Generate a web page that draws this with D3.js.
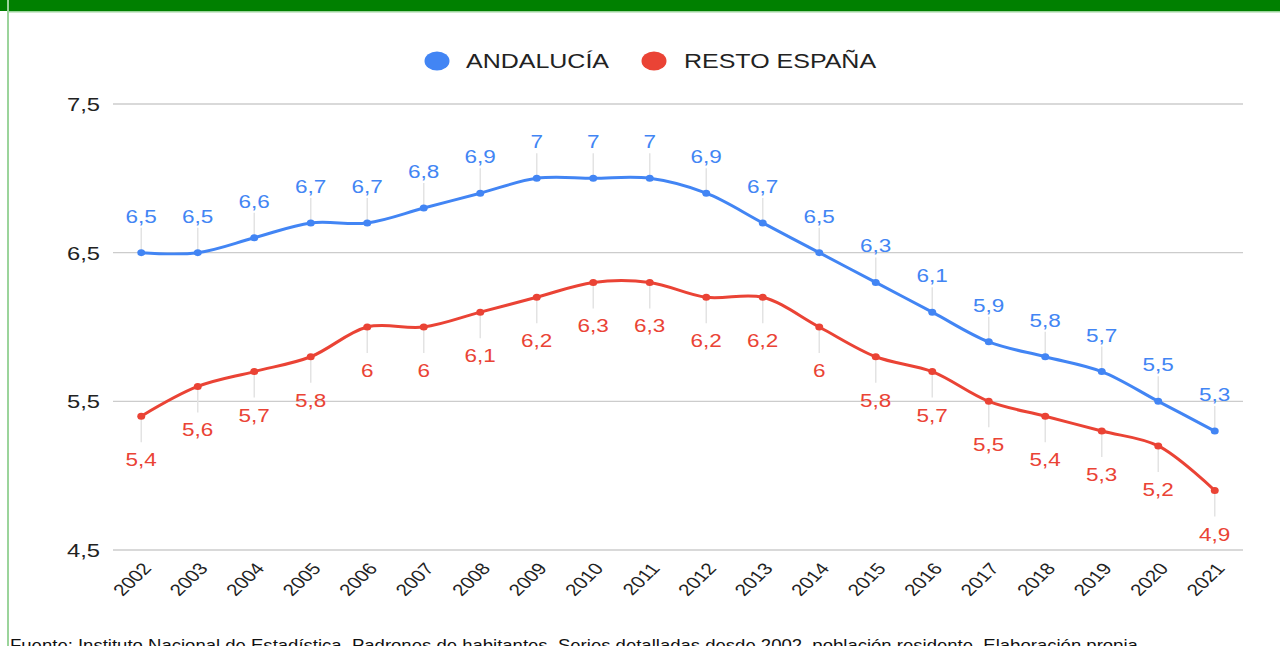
<!DOCTYPE html>
<html><head><meta charset="utf-8">
<script src="https://cdn.jsdelivr.net/npm/d3@7"></script>
<style>html,body{margin:0;padding:0;background:#fff;overflow:hidden}svg{display:block}text{font-family:"Liberation Sans",Arial,sans-serif}</style>
</head><body>
<svg id="c" width="1280" height="646"></svg>
<script>
const years = ["2002","2003","2004","2005","2006","2007","2008","2009","2010","2011","2012","2013","2014","2015","2016","2017","2018","2019","2020","2021"];
const andalucia = [6.5,6.5,6.6,6.7,6.7,6.8,6.9,7,7,7,6.9,6.7,6.5,6.3,6.1,5.9,5.8,5.7,5.5,5.3];
const restoEspana = [5.4,5.6,5.7,5.8,6,6,6.1,6.2,6.3,6.3,6.2,6.2,6,5.8,5.7,5.5,5.4,5.3,5.2,4.9];
const yTicks = [4.5,5.5,6.5,7.5];
const seriesNames = ["ANDALUCÍA","RESTO ESPAÑA"];
const footer = "Fuente: Instituto Nacional de Estadística. Padrones de habitantes. Series detalladas desde 2002, población residente. Elaboración propia.";

const BLUE = "#4285f4", RED = "#ea4335";
const SX = 1.25; // horizontal stretch of the reference
const svg = d3.select("#c");
const fmt = v => String(v).replace(".", ",");

// frame
svg.append("rect").attr("x",0).attr("y",0).attr("width",1280).attr("height",11).attr("fill","#008000");
svg.append("rect").attr("x",7).attr("y",11).attr("width",1273).attr("height",1.5).attr("fill","#9bd49b");
svg.append("rect").attr("x",7).attr("y",0).attr("width",2).attr("height",646).attr("fill","#9bd49b");

const x = d3.scaleBand().domain(years).range([113,1243]);
const y = d3.scaleLinear().domain([4.5,7.5]).range([550,104]);
const cx = d => x(d) + x.bandwidth()/2;

// gridlines
svg.append("g").selectAll("line").data(yTicks).join("line")
  .attr("x1",113).attr("x2",1243).attr("y1",d=>y(d)).attr("y2",d=>y(d))
  .attr("stroke","#cccccc").attr("stroke-width",1.3);

// y labels
svg.append("g").selectAll("text").data(yTicks).join("text")
  .attr("transform",d=>`translate(100,${y(d)+7}) scale(${SX},1)`)
  .attr("text-anchor","end").attr("font-size",19).attr("fill","#222")
  .text(d=>fmt(d));

// x labels
svg.append("g").selectAll("g").data(years).join("g")
  .attr("transform",d=>`translate(${cx(d)+11},569) scale(${SX},1)`)
  .append("text").attr("transform","rotate(-50)").attr("text-anchor","end")
  .attr("font-size",16.5).attr("fill","#222").text(d=>d);

const line = d3.line().x((d,i)=>cx(years[i])).y(d=>y(d)).curve(d3.curveCatmullRom.alpha(0.5));

function drawSeries(vals, color, above){
  const g = svg.append("g");
  // leader lines
  g.selectAll("line").data(vals).join("line")
    .attr("x1",(d,i)=>cx(years[i])).attr("x2",(d,i)=>cx(years[i]))
    .attr("y1",d=>y(d)).attr("y2",d=>above? y(d)-25 : y(d)+26)
    .attr("stroke","#e3e3e3").attr("stroke-width",1.5);
  g.append("path").datum(vals).attr("d",line).attr("fill","none")
    .attr("stroke",color).attr("stroke-width",3);
  g.selectAll("ellipse").data(vals).join("ellipse")
    .attr("cx",(d,i)=>cx(years[i])).attr("cy",d=>y(d)).attr("rx",3.5*SX/1.1).attr("ry",3.5)
    .attr("fill",color);
  g.selectAll("text").data(vals).join("text")
    .attr("transform",(d,i)=>`translate(${cx(years[i])},${above? y(d)-30 : y(d)+50}) scale(${SX},1)`)
    .attr("text-anchor","middle").attr("font-size",18).attr("fill",color)
    .text(d=>fmt(d));
}
drawSeries(andalucia, BLUE, true);
drawSeries(restoEspana, RED, false);

// legend
const legend = [{name:seriesNames[0],color:BLUE,cx:437,tx:466},{name:seriesNames[1],color:RED,cx:654,tx:684}];
const lg = svg.append("g");
lg.selectAll("ellipse").data(legend).join("ellipse")
  .attr("cx",d=>d.cx).attr("cy",61).attr("rx",12.5).attr("ry",9.5).attr("fill",d=>d.color);
lg.selectAll("text").data(legend).join("text")
  .attr("transform",d=>`translate(${d.tx},68) scale(${SX},1)`)
  .attr("font-size",20).attr("fill","#222").text(d=>d.name);

// footer (cut off at the bottom edge, as in the reference)
svg.append("text").attr("x",10).attr("y",651).attr("font-size",17).attr("fill","#111")
  .attr("textLength",1133).attr("lengthAdjust","spacingAndGlyphs").text(footer);
</script>
</body></html>
